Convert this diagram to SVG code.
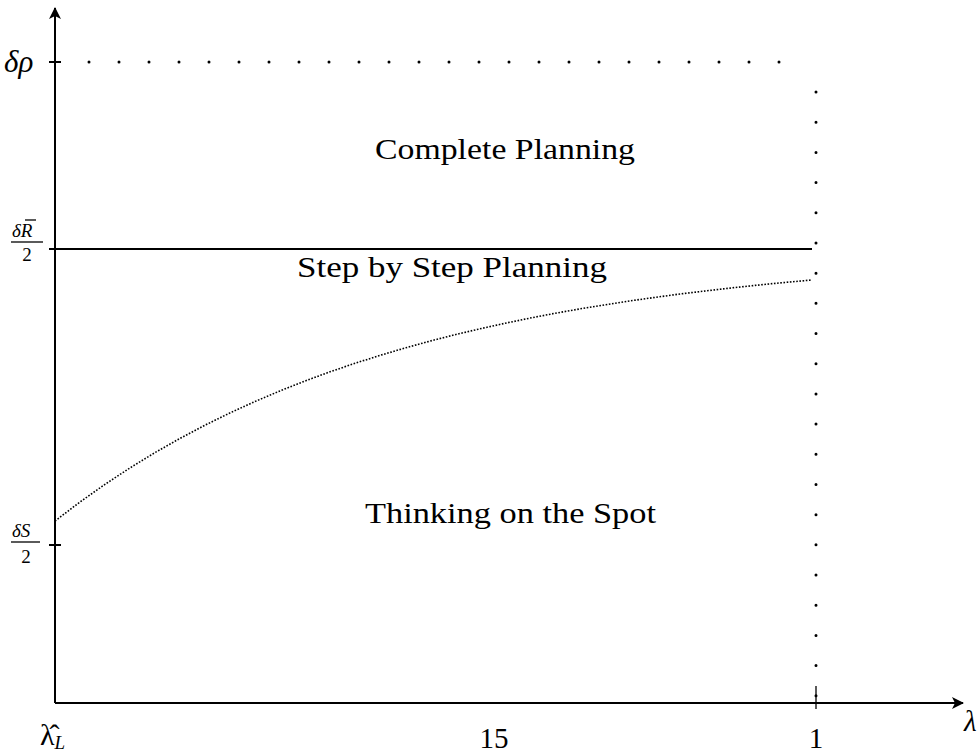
<svg xmlns="http://www.w3.org/2000/svg" width="978" height="755" viewBox="0 0 978 755">
<style>
.ax{stroke:#000;stroke-width:2;fill:none}
.dots{stroke:#000;stroke-width:3;stroke-linecap:round;stroke-dasharray:0 30;fill:none}
.t{font-family:"Liberation Serif","DejaVu Serif",serif;font-size:29px;fill:#000}
.m{font-family:"Liberation Serif","DejaVu Serif",serif;font-style:italic;fill:#000}
.n{font-family:"Liberation Serif","DejaVu Serif",serif;fill:#000}
</style>
<defs>
<marker id="arr" viewBox="0 0 12 12" refX="11" refY="6" markerWidth="12" markerHeight="12" markerUnits="userSpaceOnUse" orient="auto">
<path d="M0,0 L12,6 L0,12 L3,6 Z" fill="#000"/>
</marker>
</defs>
<g id="connectors">
<line id="y-axis" class="ax" x1="55" y1="703" x2="55" y2="8" marker-end="url(#arr)"/>
<line id="x-axis" class="ax" x1="55" y1="703" x2="963" y2="703" marker-end="url(#arr)"/>
<line class="ax" x1="49" y1="62" x2="61" y2="62"/>
<line class="ax" x1="49" y1="249" x2="61" y2="249"/>
<line class="ax" x1="49" y1="545" x2="61" y2="545"/>
<line x1="816" y1="686" x2="816" y2="709" stroke="#000" stroke-width="1.3"/>
<line id="upper-bound" class="ax" x1="55" y1="249" x2="812" y2="249"/>
<line id="top-dots" class="dots" x1="89" y1="62" x2="800" y2="62"/>
<line id="right-dots" class="dots" x1="816" y1="92" x2="816" y2="700" style="stroke-dasharray:0 30.19"/>
<polyline id="boundary-curve" fill="none" stroke="#000" stroke-width="1.6" stroke-dasharray="1.6 1.6" points="55,521 80,502 105,484.3 130,467.9 155,452.6 180,438.4 205,425.2 230,412.9 255,401.5 280,390.9 305,381 330,371.8 355,363.3 380,355.4 405,348 430,341.1 455,334.7 480,328.8 505,323.3 530,318.1 555,313.3 580,308.9 605,304.8 630,300.9 655,297.4 680,294 705,291 730,288.1 755,285.4 780,282.9 812,280"/>
</g>
<g id="region-complete">
<text class="t" x="375" y="159" textLength="260" lengthAdjust="spacingAndGlyphs">Complete Planning</text>
</g>
<g id="region-step">
<text class="t" x="297" y="277" textLength="310" lengthAdjust="spacingAndGlyphs">Step by Step Planning</text>
</g>
<g id="region-spot">
<text class="t" x="365" y="523" textLength="291" lengthAdjust="spacingAndGlyphs">Thinking on the Spot</text>
</g>
<g id="label-delta-rho">
<text class="m" x="4" y="72" font-size="31">δρ</text>
</g>
<g id="label-dR2">
<text class="m" x="12" y="237" font-size="19">δR</text>
<line x1="25" y1="220" x2="36" y2="220" stroke="#000" stroke-width="1.3"/>
<line x1="11" y1="242" x2="43" y2="242" stroke="#000" stroke-width="1.3"/>
<text class="n" x="27" y="261" font-size="19" text-anchor="middle">2</text>
</g>
<g id="label-dS2">
<text class="m" x="12" y="537" font-size="19">δS</text>
<line x1="11" y1="542" x2="40" y2="542" stroke="#000" stroke-width="1.3"/>
<text class="n" x="26" y="563" font-size="19" text-anchor="middle">2</text>
</g>
<g id="label-lambdaL">
<text class="n" x="40" y="745" font-size="30">λ̂<tspan class="m" font-size="19" dy="4">L</tspan></text>
</g>
<g id="label-15">
<text class="n" x="494" y="748" font-size="29" text-anchor="middle">15</text>
</g>
<g id="label-1">
<text class="n" x="816" y="748" font-size="29" text-anchor="middle">1</text>
</g>
<g id="label-lambda">
<text class="m" x="964" y="731" font-size="29">λ</text>
</g>
</svg>
